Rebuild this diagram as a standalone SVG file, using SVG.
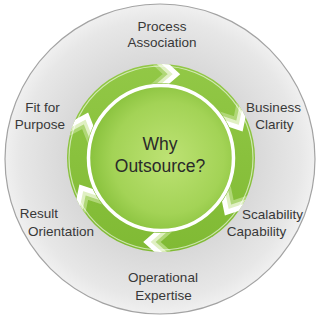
<svg xmlns="http://www.w3.org/2000/svg" width="319" height="320" viewBox="0 0 319 320">
<defs>
<style>
.lbl{font-family:"Liberation Sans",Arial,sans-serif;font-size:13.5px;fill:#383838;text-anchor:middle}
.big{font-family:"Liberation Sans",Arial,sans-serif;font-size:17.5px;fill:#2a2a2a;text-anchor:middle}
</style>
<radialGradient id="gray" cx="160" cy="159" r="155" gradientUnits="userSpaceOnUse">
<stop offset="0" stop-color="#c8c8c8"/>
<stop offset="0.6" stop-color="#d8d8d8"/>
<stop offset="0.9" stop-color="#e7e7e7"/>
<stop offset="1" stop-color="#f0f0f0"/>
</radialGradient>
<linearGradient id="ring" x1="0" y1="0" x2="0" y2="1">
<stop offset="0" stop-color="#92c846"/>
<stop offset="1" stop-color="#80ba34"/>
</linearGradient>
<radialGradient id="core" cx="0.55" cy="0.5" r="0.55">
<stop offset="0" stop-color="#bde274"/>
<stop offset="0.7" stop-color="#a3d356"/>
<stop offset="1" stop-color="#88c13c"/>
</radialGradient>
<clipPath id="annulus">
<path clip-rule="evenodd" d="M161,64 a94,94 0 1,0 0.01,0 Z M161,83 a75,75 0 1,0 0.01,0 Z"/>
</clipPath>
<g id="chev">
<polyline points="147,58 165,74 147,90" fill="none" stroke="#b0d777" stroke-width="5" stroke-linejoin="miter"/>
<polyline points="152,58 170,74 152,90" fill="none" stroke="#e0f0c3" stroke-width="5" stroke-linejoin="miter"/>
<polyline points="157,58 175,74 157,90" fill="none" stroke="#ffffff" stroke-width="5" stroke-linejoin="miter"/>
</g>
</defs>
<rect width="319" height="320" fill="#ffffff"/>
<g id="outer">
<circle cx="160" cy="159" r="155" fill="url(#gray)" stroke="#a3a3a3" stroke-width="1.2"/>
</g>
<g id="cycle">
<circle cx="161" cy="158" r="94" fill="url(#ring)"/>
<g clip-path="url(#annulus)">
<use href="#chev" transform="rotate(1 161 158)"/>
<use href="#chev" transform="rotate(60 161 158)"/>
<use href="#chev" transform="rotate(120 161 158)"/>
<use href="#chev" transform="rotate(180 161 158)"/>
<use href="#chev" transform="rotate(240 161 158)"/>
<use href="#chev" transform="rotate(290 161 158)"/>
</g>
<circle cx="161" cy="158" r="92" fill="none" stroke="#ffffff" stroke-opacity="0.6" stroke-width="1.2"/>
</g>
<g id="center">
<circle cx="161" cy="158" r="72.5" fill="url(#core)" stroke="#ffffff" stroke-width="3.5"/>
<text class="big" x="160" y="150">Why</text>
<text class="big" x="160" y="172">Outsource?</text>
</g>
<g id="process"><text class="lbl" x="162" y="31">Process</text><text class="lbl" x="162" y="47">Association</text></g>
<g id="business"><text class="lbl" x="273.5" y="112">Business</text><text class="lbl" x="274.5" y="129">Clarity</text></g>
<g id="scalability"><text class="lbl" x="272.5" y="219">Scalability</text><text class="lbl" x="256.5" y="236">Capability</text></g>
<g id="operational"><text class="lbl" x="163" y="282">Operational</text><text class="lbl" x="163.5" y="300">Expertise</text></g>
<g id="result"><text class="lbl" x="39" y="218">Result</text><text class="lbl" x="61" y="236">Orientation</text></g>
<g id="fit"><text class="lbl" x="42.5" y="112">Fit for</text><text class="lbl" x="40" y="129">Purpose</text></g>
</svg>
